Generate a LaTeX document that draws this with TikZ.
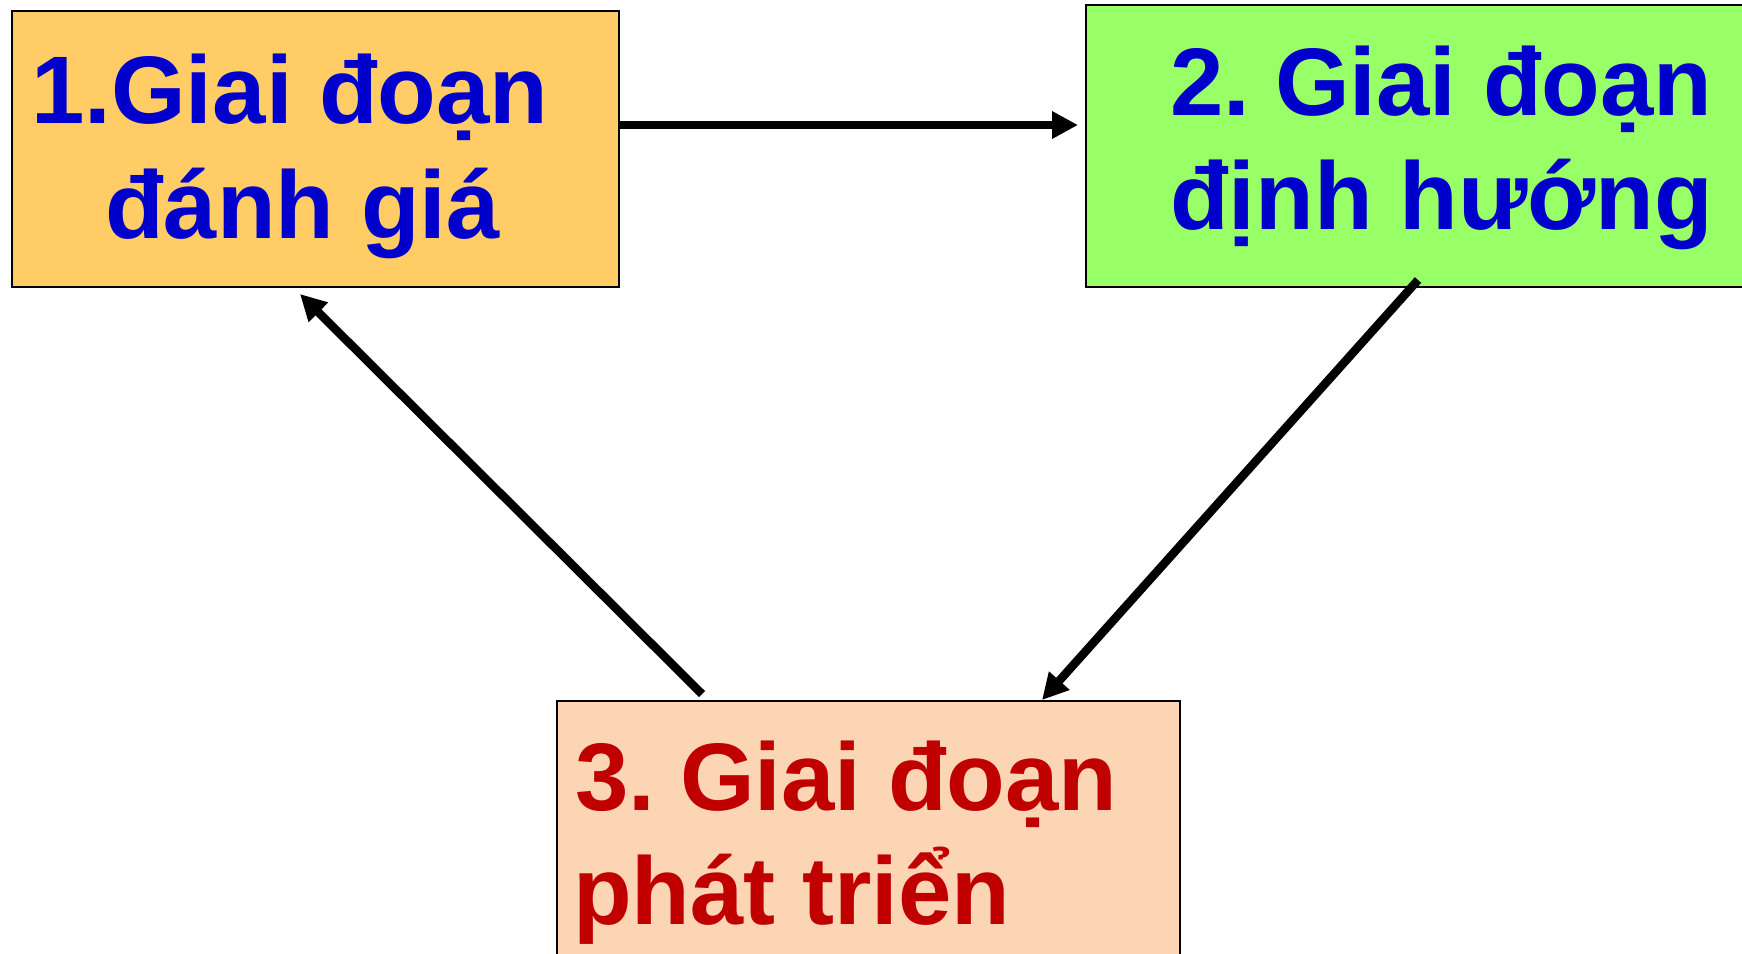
\documentclass[tikz,border=0pt]{standalone}
\usepackage{fontspec}
\setmainfont{Liberation Sans}
\usetikzlibrary{arrows.meta,calc}
\definecolor{boxorange}{HTML}{FFCC66}
\definecolor{boxgreen}{HTML}{99FF66}
\definecolor{boxpeach}{HTML}{FCD5B4}
\definecolor{txtblue}{HTML}{0000CC}
\definecolor{txtred}{HTML}{C00000}
\tikzset{
  stagebox/.style={draw=black, line width=2pt, rectangle, inner sep=0pt, anchor=north west},
  stageline/.style={anchor=base west, inner sep=0pt, font=\bfseries\fontsize{96}{114}\selectfont},
  flow/.style={line width=8.5pt, -{Triangle[length=26pt,width=26pt]}}
}
\begin{document}
\begin{tikzpicture}[x=1pt,y=-1pt]
\useasboundingbox (0,0) rectangle (1742,953);
% boxes
\node[stagebox, fill=boxorange, minimum width=607pt, minimum height=276pt] (b1) at (11,10) {};
\node[stagebox, fill=boxgreen, minimum width=680pt, minimum height=282pt] (b2) at (1085,4) {};
\node[stagebox, fill=boxpeach, minimum width=623pt, minimum height=270pt] (b3) at (556,700) {};
% texts
\node[stageline, text=txtblue] (t1a) at (31,123) {1.Giai đoạn};
\node[stageline, text=txtblue] (t1b) at (105,238) {đánh giá};
\node[stageline, text=txtblue] (t2a) at (1170,115) {2.\hspace{0.26em}Giai đoạn};
\node[stageline, text=txtblue] (t2b) at (1170,229) {định hướng};
\node[stageline, text=txtred] (t3a) at (575,810) {3.\hspace{0.26em}Giai đoạn};
\node[stageline, text=txtred] (t3b) at (573,924) {phát triển};
% connector end points
\coordinate (a1s) at ($(b1.north east)+(0,115)$);
\coordinate (a1e) at ($(b2.north west)+(-7,121)$);
\coordinate (a2s) at ($(b2.south west)+(333,-8)$);
\coordinate (a2e) at ($(b3.north west)+(486,0)$);
\coordinate (a3s) at ($(b3.north west)+(146,-6)$);
\coordinate (a3e) at ($(b1.south west)+(289,6)$);
% connectors
\draw[flow] (a1s) -- (a1e);
\draw[flow] (a2s) -- (a2e);
\draw[flow] (a3s) -- (a3e);
\end{tikzpicture}
\end{document}
